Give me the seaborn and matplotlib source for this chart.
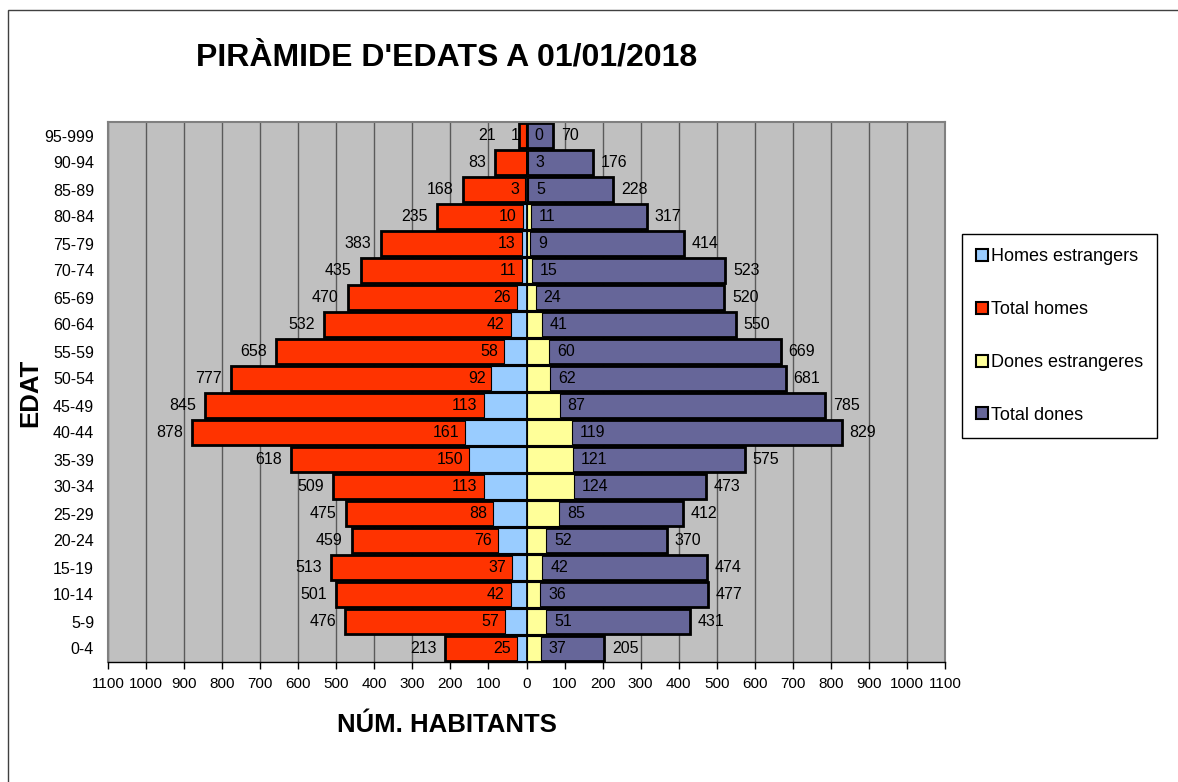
import matplotlib
matplotlib.use("Agg")
import matplotlib.pyplot as plt
import seaborn as sns
import pandas as pd
from matplotlib.patches import Patch, Rectangle

# ---------------- data ----------------
ages = ["95-999", "90-94", "85-89", "80-84", "75-79", "70-74", "65-69", "60-64",
        "55-59", "50-54", "45-49", "40-44", "35-39", "30-34", "25-29", "20-24",
        "15-19", "10-14", "5-9", "0-4"]
total_homes = [21, 83, 168, 235, 383, 435, 470, 532, 658, 777, 845, 878,
               618, 509, 475, 459, 513, 501, 476, 213]
homes_estrangers = [1, 0, 3, 10, 13, 11, 26, 42, 58, 92, 113, 161,
                    150, 113, 88, 76, 37, 42, 57, 25]
dones_estrangeres = [0, 3, 5, 11, 9, 15, 24, 41, 60, 62, 87, 119,
                     121, 124, 85, 52, 42, 36, 51, 37]
total_dones = [70, 176, 228, 317, 414, 523, 520, 550, 669, 681, 785, 829,
               575, 473, 412, 370, 474, 477, 431, 205]
xticks = list(range(-1100, 1101, 100))

RED = "#FF3300"
BLUE = "#99CCFF"
YEL = "#FFFF99"
PUR = "#666699"

sns.set_theme(style="white")
plt.rcParams["font.family"] = ["Liberation Sans", "DejaVu Sans"]
plt.rcParams["text.color"] = "black"
plt.rcParams["xtick.color"] = "black"
plt.rcParams["ytick.color"] = "black"
plt.rcParams["axes.labelcolor"] = "black"

W, H = 1178, 782
fig = plt.figure(figsize=(W / 100, H / 100), dpi=100)
fig.patch.set_facecolor("white")

ax = fig.add_axes([108 / W, 1 - 662 / H, 837 / W, 540 / H])

df = pd.DataFrame({
    "edat": ages,
    "th": [-v for v in total_homes],
    "he": [-v for v in homes_estrangers],
    "de": dones_estrangeres,
    "td": total_dones,
})

common = dict(data=df, y="edat", order=ages, orient="h", width=0.92,
              saturation=1, ax=ax, edgecolor="black")
sns.barplot(x="th", color=RED, linewidth=2, **common)
sns.barplot(x="he", color=BLUE, linewidth=0.8, **common)
sns.barplot(x="td", color=PUR, linewidth=2, **common)
sns.barplot(x="de", color=YEL, linewidth=0.8, **common)

ax.set_facecolor("#C0C0C0")
ax.set_xlim(-1100, 1100)
ax.set_ylim(len(ages) - 0.5, -0.5)
ax.set_xticks(xticks)
ax.set_xticklabels([str(abs(v)) for v in xticks])
ax.xaxis.grid(True, color="#5A5A5A", linewidth=1)
ax.yaxis.grid(False)
ax.set_axisbelow(True)
ax.set_xlabel("")
ax.set_ylabel("")
for s in ["top", "left", "right"]:
    ax.spines[s].set_color("#808080")
    ax.spines[s].set_linewidth(1.5)
ax.spines["bottom"].set_color("black")
ax.spines["bottom"].set_linewidth(1)
ax.tick_params(axis="x", direction="out", length=5, width=1, color="black",
               labelsize=11, pad=6, bottom=True, labelcolor="black")
ax.tick_params(axis="y", length=0, labelsize=11.5, pad=10, labelcolor="black")

# data labels
fs = 11.5
for i in range(len(ages)):
    ax.text(min(-total_homes[i] - 24, -80), i, str(total_homes[i]), ha="right",
            va="center", fontsize=fs, color="black")
    if homes_estrangers[i] > 0:
        ax.text(-homes_estrangers[i] - 16, i, str(homes_estrangers[i]),
                ha="right", va="center", fontsize=fs, color="black")
    ax.text(dones_estrangeres[i] + 21, i, str(dones_estrangeres[i]),
            ha="left", va="center", fontsize=fs, color="black")
    ax.text(total_dones[i] + 20, i, str(total_dones[i]), ha="left",
            va="center", fontsize=fs, color="black")

# titles
fig.text(447 / W, 1 - 57 / H, "PIRÀMIDE D'EDATS A 01/01/2018", ha="center",
         va="center", fontsize=23, fontweight="bold", color="black")
fig.text(447 / W, 1 - 725 / H, "NÚM. HABITANTS", ha="center", va="center",
         fontsize=18.5, fontweight="bold", color="black")
fig.text(30 / W, 1 - 393 / H, "EDAT", ha="center", va="center", rotation=90,
         fontsize=18.5, fontweight="bold", color="black")

# legend
handles = [
    Patch(facecolor=BLUE, edgecolor="black", linewidth=1.5, label="Homes estrangers"),
    Patch(facecolor=RED, edgecolor="black", linewidth=1.5, label="Total homes"),
    Patch(facecolor=YEL, edgecolor="black", linewidth=1.5, label="Dones estrangeres"),
    Patch(facecolor=PUR, edgecolor="black", linewidth=1.5, label="Total dones"),
]
leg = fig.legend(handles=handles, loc="upper left",
                 bbox_to_anchor=(962 / W, 1 - 234 / H),
                 bbox_transform=fig.transFigure, borderaxespad=0,
                 frameon=True, fancybox=False, edgecolor="black",
                 framealpha=1, fontsize=13, labelspacing=1.98,
                 borderpad=0.8, handlelength=0.65, handleheight=0.65,
                 handletextpad=0.15, labelcolor="black")
leg.get_frame().set_linewidth(1)

# outer border
fig.patches.append(Rectangle((8 / W, -0.05), 1.1, 1 - 10 / H + 0.05,
                             transform=fig.transFigure, fill=False,
                             edgecolor="#404040", linewidth=1))

fig.savefig("out.png", dpi=100)
